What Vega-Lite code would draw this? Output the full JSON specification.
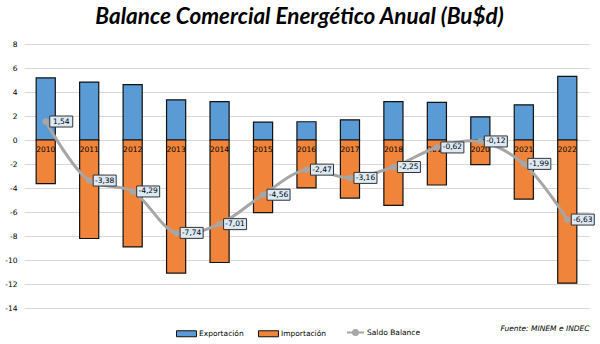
{
  "$schema": "https://vega.github.io/schema/vega-lite/v6.json",
  "width": 565,
  "height": 264,
  "autosize": {"type": "none"},
  "padding": {"left": 24, "top": 44, "right": 11, "bottom": 36},
  "background": "white",
  "config": {
    "locale": {"number": {"decimal": ",", "thousands": ".", "grouping": [3], "currency": ["$", ""], "minus": "-"}},
    "view": {"stroke": null},
    "font": "DejaVu Sans",
    "axisY": {
      "labelOverlap": false, "labelBound": false, "labelFlush": false,
      "title": null, "domain": false, "ticks": false,
      "labelFontSize": 7.5, "labelPadding": 7, "labelColor": "#000000",
      "gridColor": "#d9d9d9", "tickCount": 12
    }
  },
  "title": {
    "text": "Balance Comercial Energético Anual (Bu$d)",
    "font": "Lato",
    "fontSize": 22.5,
    "fontStyle": "italic",
    "fontWeight": "bold",
    "anchor": "middle",
    "dx": -7,
    "dy": 20,
    "offset": 14,
    "baseline": "alphabetic",
    "color": "#000000"
  },
  "datasets": {
    "barras": [
      {"anio": "2010", "tipo": "Exportación", "valor": 5.17},
      {"anio": "2010", "tipo": "Importación", "valor": -3.63},
      {"anio": "2011", "tipo": "Exportación", "valor": 4.83},
      {"anio": "2011", "tipo": "Importación", "valor": -8.21},
      {"anio": "2012", "tipo": "Exportación", "valor": 4.62},
      {"anio": "2012", "tipo": "Importación", "valor": -8.91},
      {"anio": "2013", "tipo": "Exportación", "valor": 3.35},
      {"anio": "2013", "tipo": "Importación", "valor": -11.09},
      {"anio": "2014", "tipo": "Exportación", "valor": 3.2},
      {"anio": "2014", "tipo": "Importación", "valor": -10.21},
      {"anio": "2015", "tipo": "Exportación", "valor": 1.49},
      {"anio": "2015", "tipo": "Importación", "valor": -6.05},
      {"anio": "2016", "tipo": "Exportación", "valor": 1.52},
      {"anio": "2016", "tipo": "Importación", "valor": -3.99},
      {"anio": "2017", "tipo": "Exportación", "valor": 1.68},
      {"anio": "2017", "tipo": "Importación", "valor": -4.84},
      {"anio": "2018", "tipo": "Exportación", "valor": 3.2},
      {"anio": "2018", "tipo": "Importación", "valor": -5.45},
      {"anio": "2019", "tipo": "Exportación", "valor": 3.13},
      {"anio": "2019", "tipo": "Importación", "valor": -3.75},
      {"anio": "2020", "tipo": "Exportación", "valor": 1.93},
      {"anio": "2020", "tipo": "Importación", "valor": -2.05},
      {"anio": "2021", "tipo": "Exportación", "valor": 2.93},
      {"anio": "2021", "tipo": "Importación", "valor": -4.92},
      {"anio": "2022", "tipo": "Exportación", "valor": 5.3},
      {"anio": "2022", "tipo": "Importación", "valor": -11.93}
    ],
    "saldo": [
      {"anio": "2010", "saldo": 1.54},
      {"anio": "2011", "saldo": -3.38},
      {"anio": "2012", "saldo": -4.29},
      {"anio": "2013", "saldo": -7.74},
      {"anio": "2014", "saldo": -7.01},
      {"anio": "2015", "saldo": -4.56},
      {"anio": "2016", "saldo": -2.47},
      {"anio": "2017", "saldo": -3.16},
      {"anio": "2018", "saldo": -2.25},
      {"anio": "2019", "saldo": -0.62},
      {"anio": "2020", "saldo": -0.12},
      {"anio": "2021", "saldo": -1.99},
      {"anio": "2022", "saldo": -6.63}
    ]
  },
  "encoding": {
    "x": {
      "field": "anio",
      "type": "nominal",
      "sort": null,
      "scale": {"paddingInner": 0.56, "paddingOuter": 0.28},
      "axis": {
        "labels": false, "ticks": false, "domain": false, "grid": false,
        "title": "Fuente: MINEM e INDEC",
        "titleAnchor": "end",
        "titleFontStyle": "italic",
        "titleFontWeight": "normal",
        "titleFontSize": 7.5,
        "titleFont": "DejaVu Sans",
        "titleColor": "#000000",
        "titleY": 20,
        "titleBaseline": "middle"
      }
    }
  },
  "layer": [
    {
      "data": {"name": "barras"},
      "mark": {"type": "bar", "stroke": "#111111", "strokeWidth": 1.2},
      "encoding": {
        "y": {
          "field": "valor", "type": "quantitative", "stack": null,
          "scale": {"domain": [-14, 8], "nice": false},
          "axis": {"values": [-14, -12, -10, -8, -6, -4, -2, 0, 2, 4, 6, 8], "labelOverlap": false, "labelSeparation": 0}
        },
        "fill": {
          "field": "tipo", "type": "nominal",
          "scale": {"domain": ["Exportación", "Importación"], "range": ["#5b9bd5", "#f0843a"]},
          "legend": {
            "orient": "none", "legendX": 152, "legendY": 279,
            "direction": "horizontal", "title": null,
            "symbolType": "M-1,-0.3H1V0.3H-1Z", "symbolSize": 400,
            "symbolStrokeColor": "#111111", "symbolStrokeWidth": 1,
            "labelFontSize": 7.5, "labelFont": "DejaVu Sans", "labelColor": "#000000",
            "columnPadding": 12, "labelOffset": 2, "padding": 0
          }
        }
      }
    },
    {
      "data": {"name": "saldo"},
      "mark": {"type": "text", "dy": 10, "fontSize": 7.5, "color": "#000000", "baseline": "middle"},
      "encoding": {
        "y": {"datum": 0, "type": "quantitative"},
        "text": {"field": "anio"}
      }
    },
    {
      "data": {"name": "saldo"},
      "mark": {"type": "line", "interpolate": "catmull-rom", "strokeWidth": 3},
      "encoding": {
        "y": {"field": "saldo", "type": "quantitative"},
        "stroke": {
          "datum": "Saldo Balance",
          "scale": {"range": ["#a6a6a6"]},
          "legend": {
            "orient": "none", "legendX": 322, "legendY": 279, "title": null,
            "symbolType": "M-1,0H1M0.3,0A0.3,0.3 0 1 1 -0.3,0A0.3,0.3 0 1 1 0.3,0",
            "symbolSize": 289, "symbolStrokeWidth": 2, "symbolFillColor": "#a6a6a6",
            "labelFontSize": 7.5, "labelFont": "DejaVu Sans", "labelColor": "#000000",
            "labelOffset": 2, "padding": 0
          }
        }
      }
    },
    {
      "data": {"name": "saldo"},
      "mark": {"type": "point", "filled": true, "color": "#a6a6a6", "size": 40, "opacity": 1},
      "encoding": {
        "y": {"field": "saldo", "type": "quantitative"}
      }
    },
    {
      "data": {"name": "saldo"},
      "mark": {
        "type": "point", "shape": "M0.73,-1H4.91V1H0.73Z", "size": 121,
        "filled": true, "fill": "#dce9f7", "stroke": "#333333", "strokeWidth": 1, "opacity": 1
      },
      "encoding": {
        "y": {"field": "saldo", "type": "quantitative"}
      }
    },
    {
      "data": {"name": "saldo"},
      "mark": {"type": "text", "dx": 15.5, "align": "center", "baseline": "middle", "fontSize": 7.5, "color": "#000000"},
      "encoding": {
        "y": {"field": "saldo", "type": "quantitative"},
        "text": {"field": "saldo", "type": "quantitative", "format": ".2f"}
      }
    }
  ]
}
